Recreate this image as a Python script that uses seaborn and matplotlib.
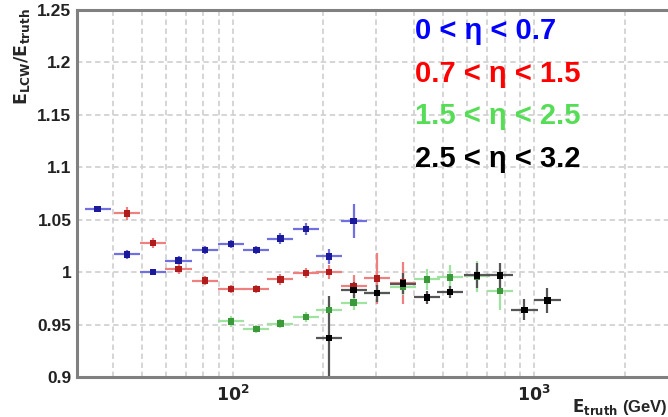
import numpy as np
import pandas as pd
import matplotlib
matplotlib.use("Agg")
import matplotlib.pyplot as plt
import seaborn as sns
from matplotlib.ticker import FixedLocator, NullFormatter

# ---- data ----
labels = ["0 < η < 0.7", "0.7 < η < 1.5", "1.5 < η < 2.5", "2.5 < η < 3.2"]

x_b = [35.7, 44.6, 54.4, 66.2, 80.9, 99, 120, 144, 175, 209, 252]
y_b = [1.060, 1.017, 1.000, 1.011, 1.021, 1.027, 1.021, 1.032, 1.041, 1.015, 1.049]
e_b = [0.003, 0.004, 0.003, 0.004, 0.004, 0.004, 0.004, 0.005, 0.006, 0.007, 0.016]

x_r = [44.6, 54.4, 66.2, 80.9, 99, 120, 144, 175, 209, 252, 301, 367]
y_r = [1.056, 1.028, 1.003, 0.992, 0.984, 0.984, 0.993, 0.999, 1.000, 0.987, 0.994, 0.990]
e_r = [0.006, 0.005, 0.005, 0.004, 0.004, 0.004, 0.005, 0.005, 0.007, 0.010, 0.024, 0.020]

x_g = [99, 120, 144, 175, 209, 252, 301, 367, 441, 527, 646, 771]
y_g = [0.953, 0.946, 0.951, 0.957, 0.964, 0.971, 0.980, 0.986, 0.993, 0.995, 0.996, 0.982]
e_g = [0.005, 0.004, 0.004, 0.005, 0.006, 0.007, 0.008, 0.008, 0.010, 0.012, 0.015, 0.018]

x_k = [209, 252, 301, 367, 441, 527, 646, 771, 929, 1107]
y_k = [0.937, 0.983, 0.980, 0.989, 0.976, 0.981, 0.997, 0.997, 0.964, 0.973]
e_k = [0.040, 0.008, 0.008, 0.010, 0.006, 0.006, 0.012, 0.012, 0.010, 0.012]

series = [(x_b, y_b, e_b), (x_r, y_r, e_r), (x_g, y_g, e_g), (x_k, y_k, e_k)]
mark_cols = ["#1a1a9a", "#b01c1c", "#3a9a3a", "#000000"]
bar_cols = ["#7070e0", "#ee8080", "#a0e3a0", "#555555"]
text_cols = ["#0000ff", "#ff0000", "#55dd55", "#000000"]

rows = []
for lab, (xs, ys, es) in zip(labels, series):
    for xv, yv, ev in zip(xs, ys, es):
        rows.append({"E": xv, "R": yv, "err": ev, "eta": lab})
df = pd.DataFrame(rows)

sns.set_style("white")
plt.rcParams["font.family"] = ["Liberation Sans", "DejaVu Sans"]

fig = plt.figure(figsize=(6.68, 4.17), dpi=100)
ax = fig.add_axes([77/668, 40/417, (678-77)/668, 367/417])
ax.set_xscale("log")
ax.set_xlim(30.5, 3000)
ax.set_ylim(0.9, 1.25)

# grid (ROOT style dashed)
major_x = [100, 1000]
minor_x = [40, 50, 60, 70, 80, 90, 200, 300, 400, 500, 600, 700, 800, 900, 2000]
for xv in major_x + minor_x:
    ax.axvline(xv, color="#d2d2d2", lw=1.3, ls=(0, (3, 2)), zorder=0)
for yv in np.arange(0.95, 1.25, 0.05):
    ax.axhline(yv, color="#d2d2d2", lw=1.3, ls=(0, (3, 2)), zorder=0)

fac = 1.105
for lab, (xs, ys, es), mc, bc in zip(labels, series, mark_cols, bar_cols):
    xs = np.array(xs); ys = np.array(ys); es = np.array(es)
    ax.errorbar(xs, ys, yerr=es, xerr=[xs - xs / fac, xs * fac - xs],
                fmt="none", ecolor=bc, elinewidth=1.6, capsize=0, zorder=2)

sns.scatterplot(data=df, x="E", y="R", hue="eta", palette=mark_cols,
                marker="s", s=22, edgecolor="none", legend=False, ax=ax, zorder=3)

for i, (lab, tc) in enumerate(zip(labels, text_cols)):
    ax.text(415/668, 1 - (31 + 42.5 * i) / 417, lab, color=tc, fontsize=21,
            fontweight="bold", transform=fig.transFigure, ha="left", va="center")

ax.xaxis.set_major_locator(FixedLocator(major_x))
ax.xaxis.set_minor_locator(FixedLocator(minor_x))
ax.xaxis.set_minor_formatter(NullFormatter())
ax.set_xticklabels([r"$\mathbf{10^2}$", r"$\mathbf{10^3}$"])
ax.set_yticks([0.9, 0.95, 1.0, 1.05, 1.1, 1.15, 1.2, 1.25])
ax.set_yticklabels(["0.9", "0.95", "1", "1.05", "1.1", "1.15", "1.2", "1.25"],
                   fontweight="bold")
ax.yaxis.set_minor_locator(FixedLocator(np.arange(0.9, 1.2501, 0.01)))
ax.tick_params(axis="y", which="major", direction="in", length=18, width=1.5,
               colors="#888888", labelcolor="#222222", labelsize=12.5, pad=4)
ax.tick_params(axis="y", which="minor", direction="in", length=9, width=1.2,
               colors="#888888")
ax.tick_params(axis="x", which="major", direction="in", length=10, width=1.5,
               colors="#888888", labelcolor="#222222", labelsize=12.5, pad=5)
ax.tick_params(axis="x", which="minor", direction="in", length=7, width=1.2,
               colors="#888888")
for sp in ax.spines.values():
    sp.set_color("#808080")
    sp.set_linewidth(2.2)

ax.set_xlabel("")
ax.set_ylabel("")
fig.text(668/668, 10/417, r"$\mathbf{E_{truth}}$ (GeV)", ha="right", va="center",
         fontsize=12, fontweight="bold")
fig.text(22/668, 1 - 8/417, r"$\mathbf{E_{LCW}/E_{truth}}$", rotation=90,
         ha="center", va="top", fontsize=12.5)

fig.savefig("out.png", dpi=100)
